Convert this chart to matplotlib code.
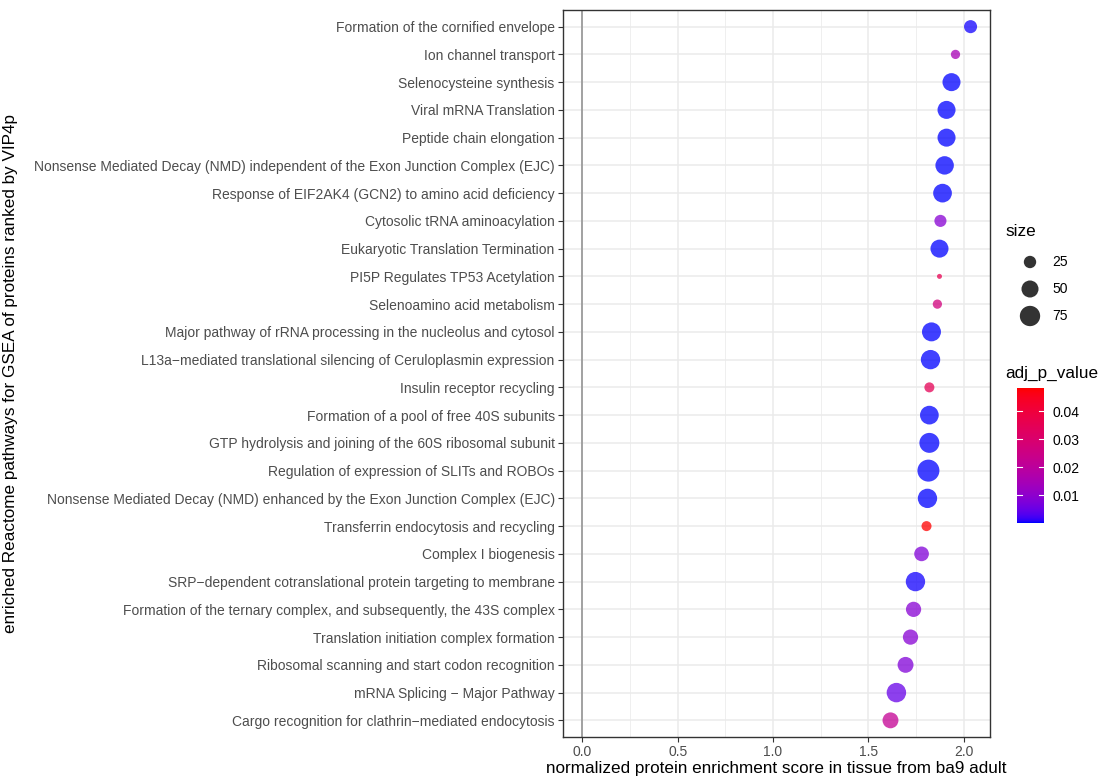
import numpy as np
import matplotlib
matplotlib.use("Agg")
import matplotlib.pyplot as plt
from matplotlib.colors import ListedColormap, Normalize

plt.rcParams['font.family'] = ['Liberation Sans', 'DejaVu Sans']

pathways = [
    "Formation of the cornified envelope",
    "Ion channel transport",
    "Selenocysteine synthesis",
    "Viral mRNA Translation",
    "Peptide chain elongation",
    "Nonsense Mediated Decay (NMD) independent of the Exon Junction Complex (EJC)",
    "Response of EIF2AK4 (GCN2) to amino acid deficiency",
    "Cytosolic tRNA aminoacylation",
    "Eukaryotic Translation Termination",
    "PI5P Regulates TP53 Acetylation",
    "Selenoamino acid metabolism",
    "Major pathway of rRNA processing in the nucleolus and cytosol",
    "L13a\u2212mediated translational silencing of Ceruloplasmin expression",
    "Insulin receptor recycling",
    "Formation of a pool of free 40S subunits",
    "GTP hydrolysis and joining of the 60S ribosomal subunit",
    "Regulation of expression of SLITs and ROBOs",
    "Nonsense Mediated Decay (NMD) enhanced by the Exon Junction Complex (EJC)",
    "Transferrin endocytosis and recycling",
    "Complex I biogenesis",
    "SRP\u2212dependent cotranslational protein targeting to membrane",
    "Formation of the ternary complex, and subsequently, the 43S complex",
    "Translation initiation complex formation",
    "Ribosomal scanning and start codon recognition",
    "mRNA Splicing \u2212 Major Pathway",
    "Cargo recognition for clathrin\u2212mediated endocytosis",
]
nes = [2.036, 1.957, 1.936, 1.910, 1.910, 1.900, 1.889, 1.878, 1.873, 1.873,
       1.862, 1.831, 1.826, 1.820, 1.820, 1.820, 1.815, 1.810, 1.805, 1.779,
       1.747, 1.737, 1.721, 1.695, 1.647, 1.616]
gene_size = [28, 15, 57, 57, 57, 60, 62, 24, 57, 10,
             15, 64, 67, 17, 62, 72, 90, 67, 17, 36,
             67, 39, 39, 43, 68, 43]
adj_p = [0.0005, 0.015, 0.0003, 0.0002, 0.0002, 0.0003, 0.0003, 0.009, 0.0003, 0.036,
         0.027, 0.0003, 0.0003, 0.035, 0.0003, 0.0002, 0.0002, 0.0003, 0.0482, 0.008,
         0.0004, 0.009, 0.009, 0.008, 0.005, 0.022]

size_breaks = [25, 50, 75]
p_ticks = [0.01, 0.02, 0.03, 0.04]

# --- Lab interpolation (like ggplot scale_colour_gradient) ---
M = np.array([[0.4124, 0.3576, 0.1805], [0.2126, 0.7152, 0.0722], [0.0193, 0.1192, 0.9505]])
WP = np.array([0.95047, 1.0, 1.08883])

def srgb_to_lab(rgb):
    rgb = np.asarray(rgb, float)
    lin = np.where(rgb <= 0.04045, rgb / 12.92, ((rgb + 0.055) / 1.055) ** 2.4)
    t = (M @ lin) / WP
    f = np.where(t > (6/29) ** 3, np.cbrt(t), t / (3 * (6/29) ** 2) + 4/29)
    return np.array([116 * f[1] - 16, 500 * (f[0] - f[1]), 200 * (f[1] - f[2])])

def lab_to_srgb(lab):
    L, a, b = lab
    fy = (L + 16) / 116
    f = np.array([fy + a / 500, fy, fy - b / 200])
    t = np.where(f > 6/29, f ** 3, 3 * (6/29) ** 2 * (f - 4/29))
    lin = np.clip(np.linalg.inv(M) @ (t * WP), 0, 1)
    rgb = np.where(lin <= 0.0031308, 12.92 * lin, 1.055 * lin ** (1/2.4) - 0.055)
    return np.clip(rgb, 0, 1)

lab_lo = srgb_to_lab([0, 0, 1])
lab_hi = srgb_to_lab([1, 0, 0])
cols = [lab_to_srgb(lab_lo + (lab_hi - lab_lo) * t) for t in np.linspace(0, 1, 256)]
cmap = ListedColormap(cols)
norm = Normalize(vmin=min(adj_p), vmax=max(adj_p))

# size mapping (area scale similar to ggplot scale_size)
smin, smax = min(gene_size), max(gene_size)
dmin_px, dmax_px = 5.0, 22.0
def diam_pt(v):
    frac = np.sqrt((np.asarray(v, float) - smin) / (smax - smin))
    return (dmin_px + (dmax_px - dmin_px) * frac) * 72 / 100

FS_TICK = 10.0
FS_TITLE = 12.3

fig = plt.figure(figsize=(11.12, 7.81), dpi=100)
ax = fig.add_axes([563/1112, 1 - 737/781, (990-563)/1112, (737-10)/781])

n = len(pathways)
ypos = np.arange(n)[::-1]

ax.set_xlim(-0.1018, 2.138)
ax.set_ylim(-0.6, n - 1 + 0.6)

# grid
for xv in np.arange(0, 2.01, 0.5):
    ax.axvline(xv, color='#EBEBEB', lw=1.1, zorder=0)
for xv in np.arange(0.25, 2.2, 0.5):
    ax.axvline(xv, color='#EBEBEB', lw=0.55, zorder=0)
for yv in ypos:
    ax.axhline(yv, color='#EBEBEB', lw=1.1, zorder=0)
ax.axvline(0, color='#8C8C8C', lw=1.1, zorder=1)

ax.scatter(nes, ypos, s=diam_pt(gene_size) ** 2, c=adj_p, cmap=cmap, norm=norm,
           alpha=0.75, edgecolors='none', zorder=3)

ax.set_yticks(ypos)
ax.set_yticklabels(pathways)
ax.set_xticks([0, 0.5, 1.0, 1.5, 2.0])
ax.set_xticklabels(["0.0", "0.5", "1.0", "1.5", "2.0"])
ax.tick_params(axis='both', colors='#333333', labelcolor='#4D4D4D', labelsize=FS_TICK,
               length=3.5, width=0.8, pad=2.5)
for sp in ax.spines.values():
    sp.set_color('#333333')
    sp.set_linewidth(1.0)

ax.set_xlabel("normalized protein enrichment score in tissue from ba9 adult", fontsize=FS_TITLE,
              color='black', labelpad=1)
ax.set_ylabel("enriched Reactome pathways for GSEA of proteins ranked by VIP4p", fontsize=FS_TITLE,
              color='black')
ax.yaxis.set_label_coords((18 - 563) / (990 - 563), 0.5)

# size legend
fig.text(1005/1112, 1 - 232/781, "size", fontsize=FS_TITLE, ha='left', va='center')
lax = fig.add_axes([1005/1112, 1 - 330/781, 60/1112, 85/781])
lax.set_xlim(0, 60)
lax.set_ylim(330, 245)
lax.axis('off')
for v, yy in zip(size_breaks, [262, 289, 316]):
    lax.scatter([1030 - 1005], [yy], s=diam_pt(v) ** 2, color='#333333', edgecolors='none')
    lax.text(1052 - 1005, yy, str(v), fontsize=FS_TICK, va='center', ha='left', color='black')

# colorbar
fig.text(1005/1112, 1 - 373/781, "adj_p_value", fontsize=FS_TITLE, ha='left', va='center')
cax = fig.add_axes([1017/1112, 1 - 523/781, 27/1112, (523-388)/781])
grad = np.linspace(norm.vmin, norm.vmax, 300).reshape(-1, 1)
cax.imshow(grad, aspect='auto', cmap=cmap, norm=norm, origin='lower',
           extent=[0, 1, norm.vmin, norm.vmax])
cax.set_xlim(0, 1)
cax.set_ylim(norm.vmin, norm.vmax)
for t in p_ticks:
    cax.plot([0, 0.2], [t, t], color='white', lw=0.8)
    cax.plot([0.8, 1], [t, t], color='white', lw=0.8)
cax.set_xticks([])
cax.yaxis.tick_right()
cax.set_yticks(p_ticks)
cax.set_yticklabels([f"{t:.2f}" for t in p_ticks])
cax.tick_params(axis='y', length=0, labelsize=FS_TICK, labelcolor='black', pad=6)
for sp in cax.spines.values():
    sp.set_visible(False)

fig.savefig("out.png", dpi=100)
